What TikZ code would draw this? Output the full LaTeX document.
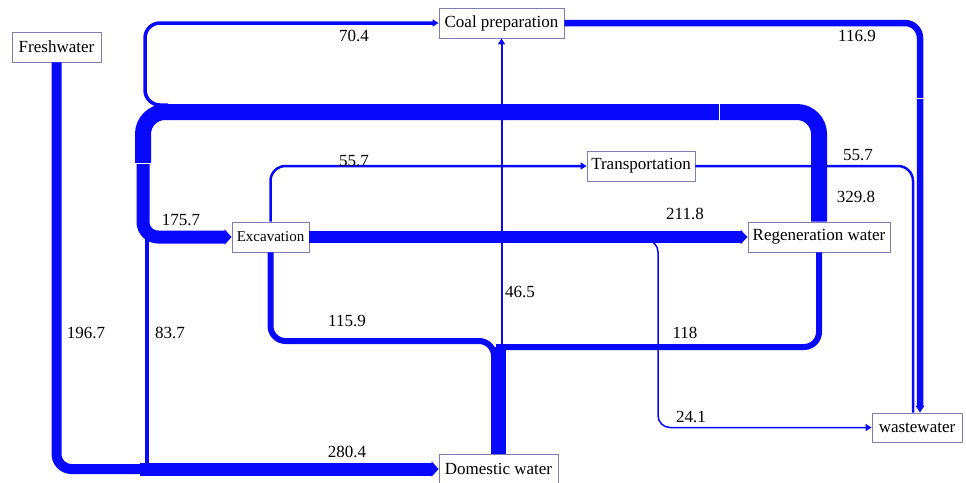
\documentclass[tikz,border=0pt]{standalone}
\usepackage{fontspec}
\setmainfont{Liberation Serif}
\newfontfamily\diagfont{Liberation Serif}
\usetikzlibrary{arrows.meta}

\definecolor{flowblue}{RGB}{8,8,250}
\definecolor{boxline}{RGB}{125,125,180}

\begin{document}
\begin{tikzpicture}[x=1pt,y=-1pt,
  box/.style={draw=boxline,line width=0.8pt,fill=white,minimum height=30pt,inner xsep=2pt,inner ysep=0pt,font=\diagfont\fontsize{17}{20}\selectfont},
  val/.style={inner sep=0pt,font=\diagfont\fontsize{17}{20}\selectfont},
  flow/.style={draw=flowblue,rounded corners=15pt},
  smalltip/.style={-{Triangle[length=6pt,width=7pt]}},
  bigtip/.style={-{Triangle[length=7pt,width=2pt 1]}},
  seamline/.style={draw=white,line width=0.6pt}]
\useasboundingbox (0,0) rectangle (966,482);

% nodes
\node[box,minimum width=89pt] (fresh) at (56.5,47) {Freshwater};
\node[box,minimum width=125pt] (coal) at (501.5,23) {Coal preparation};
\node[box,minimum width=108pt] (trans) at (641,166) {Transportation};
\node[box,minimum width=77pt,font=\diagfont\fontsize{15}{18}\selectfont] (exc) at (270.5,237) {Excavation};
\node[box,minimum width=142pt] (regen) at (819,237) {Regeneration water};
\node[box,minimum width=119pt] (dom) at (498.5,469) {Domestic water};
\node[box,minimum width=90pt,minimum height=29pt] (waste) at (917,427.5) {wastewater};

% junctions
\coordinate (seam) at (143,163);
\coordinate (fork70) at (168,105);
\coordinate (fork84) at (147,238);
\coordinate (foot84) at (147,469);
\coordinate (bend) at (150,469);
\coordinate (join) at (140,469);
\coordinate (fork24) at (640,240);
\coordinate (mix) at (498.5,347);

% flows
\draw[flow,line width=10pt] (fresh.south) |- (bend);
\draw[flow,line width=13pt,bigtip] (join) -- (dom.west);
\draw[flow,line width=4pt] (fork84) -- (foot84);
\draw[flow,line width=3.5pt,smalltip] (fork70) -- (145,105) |- (coal.west);
\draw[flow,line width=16pt,rounded corners=22pt] (regen.north) -- (819,112) -- (143,112) -- (seam);
\draw[flow,line width=13pt,bigtip] (seam) |- (exc.west);
\draw[flow,line width=12pt,bigtip] (exc.east) -- (regen.west);
\draw[flow,line width=2.5pt,smalltip] (exc.north) |- (trans.west);
\draw[flow,line width=2.5pt] (trans.east) -| ([xshift=-4pt]waste.north);
\draw[flow,line width=6.5pt,bigtip] (coal.east) -| ([xshift=3pt]waste.north);
\draw[flow,line width=6pt] (exc.south) -- (270.5,341) -- (494,341) -- (494,372);
\draw[flow,line width=6pt] (regen.south) -- (819,347) -- (496,347);
\draw[flow,line width=15pt] (mix) -- (dom.north);
\draw[flow,line width=1.5pt,smalltip,rounded corners=12pt] (fork24) -- (658,240) |- (waste.west);
\draw[flow,line width=2pt,smalltip] (coal.south |- dom.north) -- (coal.south);

% seams between segments
\draw[seamline] (135,163) -- (151,163);
\draw[seamline] (719,103) -- (719,121);
\draw[seamline] (915,98) -- (925,98);

% values
\node[val] (v1) at (354,36) {70.4};
\node[val] (v2) at (857,36) {116.9};
\node[val] (v3) at (354,161) {55.7};
\node[val] (v4) at (858,155) {55.7};
\node[val] (v5) at (856,197) {329.8};
\node[val] (v6) at (181,220) {175.7};
\node[val] (v7) at (685,214) {211.8};
\node[val] (v8) at (520,292) {46.5};
\node[val] (v9) at (86,333) {196.7};
\node[val] (v10) at (170,333) {83.7};
\node[val] (v11) at (347,321) {115.9};
\node[val] (v12) at (685,333) {118};
\node[val] (v13) at (691,417) {24.1};
\node[val] (v14) at (347,452) {280.4};
\end{tikzpicture}
\end{document}
